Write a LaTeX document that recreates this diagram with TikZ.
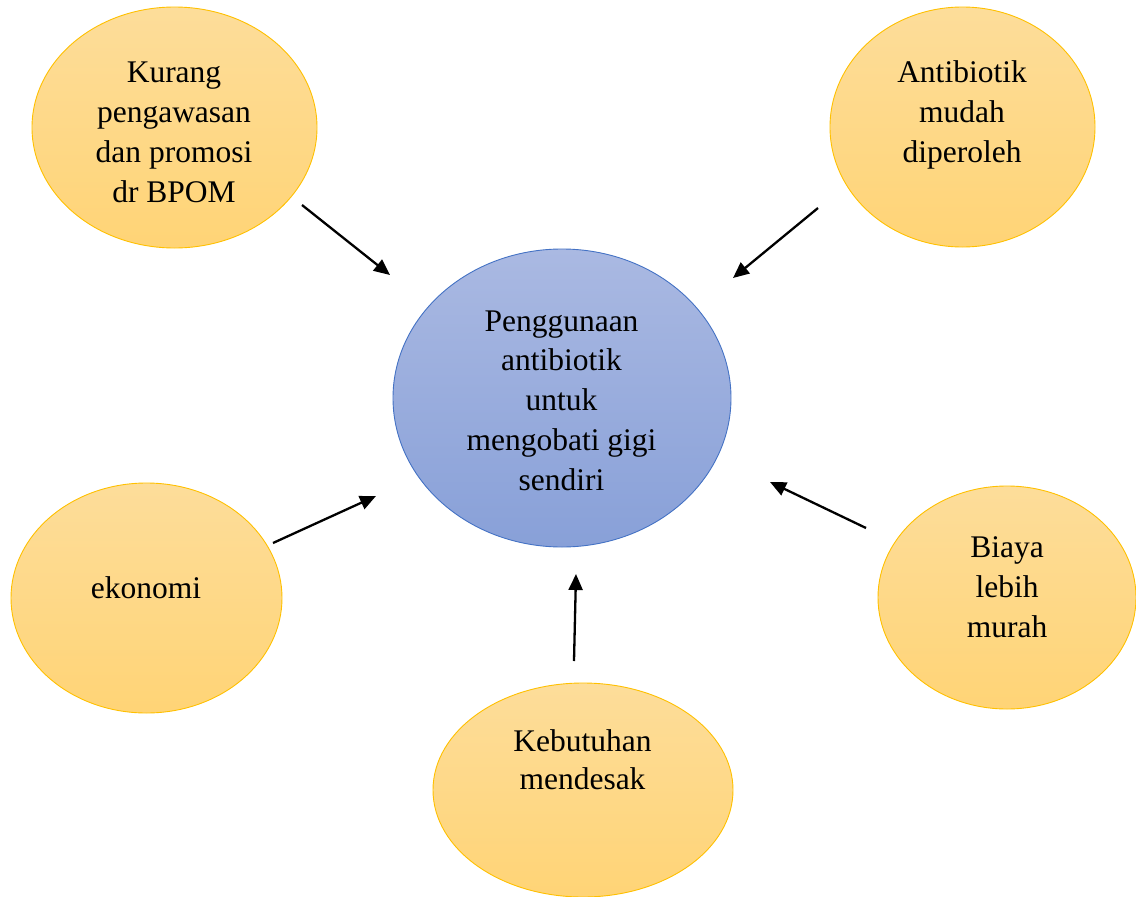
\documentclass[tikz,border=0pt]{standalone}
\usepackage{fontspec}
\setmainfont{Liberation Serif}
\usetikzlibrary{shapes.geometric,arrows.meta}
\definecolor{orTop}{RGB}{253,221,154}
\definecolor{orBot}{RGB}{255,212,118}
\definecolor{orLine}{RGB}{255,192,0}
\definecolor{blTop}{RGB}{170,185,226}
\definecolor{blBot}{RGB}{136,160,216}
\definecolor{blLine}{RGB}{68,114,196}
\tikzset{
  causebox/.style={ellipse, draw=orLine, line width=0.9pt, top color=orTop, bottom color=orBot, inner sep=0pt},
  mainbox/.style={ellipse, draw=blLine, line width=0.9pt, top color=blTop, bottom color=blBot, inner sep=0pt},
  lbl/.style={font=\fontsize{31.5}{39.7}\selectfont, align=center, anchor=base, inner sep=0pt},
  arr/.style={line width=2.3pt, -{Triangle[length=16pt,width=14pt]}}
}
\begin{document}
\begin{tikzpicture}[x=1pt,y=-1pt]
\useasboundingbox (0,0) rectangle (1136,897);
% ellipses
\node[causebox, minimum width=285pt, minimum height=241pt] (tl) at (174.5,127.5) {};
\node[causebox, minimum width=265pt, minimum height=240pt] (tr) at (962.5,127) {};
\node[mainbox, minimum width=338pt, minimum height=298pt] (c) at (562,398) {};
\node[causebox, minimum width=271pt, minimum height=230pt] (l) at (146.5,598) {};
\node[causebox, minimum width=258pt, minimum height=223pt] (r) at (1007,597.5) {};
\node[causebox, minimum width=300pt, minimum height=214pt] (b) at (583,790) {};
% texts (anchor = baseline of last line)
\node[lbl] (tlt) at (174,202) {Kurang\\pengawasan\\dan promosi\\dr BPOM};
\node[lbl] (trt) at (962,162) {Antibiotik\\mudah\\diperoleh};
\node[lbl] (ct) at (561.5,490) {Penggunaan\\antibiotik\\untuk\\mengobati gigi\\sendiri};
\node[lbl] (lt) at (146,598) {ekonomi};
\node[lbl] (rt) at (1007,637) {Biaya\\lebih\\murah};
\node[lbl, font=\fontsize{31.5}{37.5}\selectfont] (bt) at (582.5,789) {Kebutuhan\\mendesak};
% arrow end points
\coordinate (a1s) at (302,205); \coordinate (a1e) at (390,275);
\coordinate (a2s) at (818,208); \coordinate (a2e) at (733,278);
\coordinate (a3s) at (273,543); \coordinate (a3e) at (376,496);
\coordinate (a4s) at (866,528); \coordinate (a4e) at (770,482);
\coordinate (a5s) at (574,661); \coordinate (a5e) at (576,574);
\draw[arr] (a1s) -- (a1e);
\draw[arr] (a2s) -- (a2e);
\draw[arr] (a3s) -- (a3e);
\draw[arr] (a4s) -- (a4e);
\draw[arr] (a5s) -- (a5e);
\end{tikzpicture}
\end{document}
